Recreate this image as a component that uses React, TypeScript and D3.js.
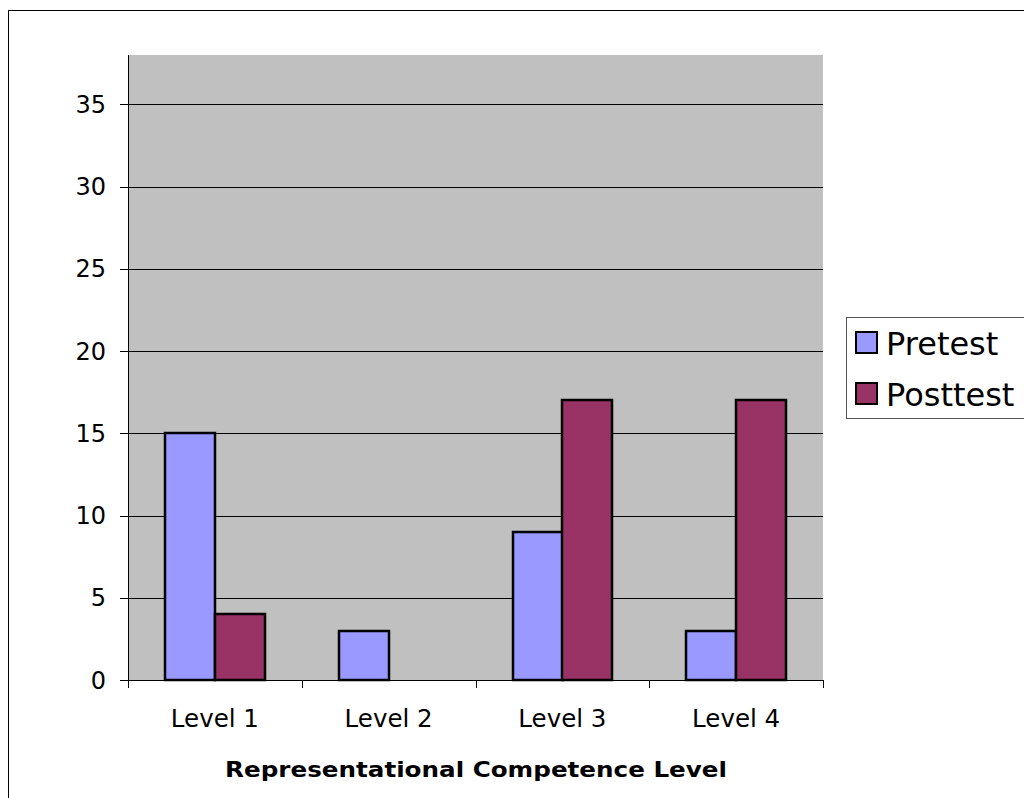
import React from "react";
import * as d3 from "d3";

const categories = ["Level 1", "Level 2", "Level 3", "Level 4"];
const seriesNames = ["Pretest", "Posttest"];
const pretest = [15, 3, 9, 3];
const posttest = [4, 0, 17, 17];
const yTicks = [0, 5, 10, 15, 20, 25, 30, 35];
const colors = ["#9999FF", "#993366"];

export default function App() {
  const left = 128, right = 823, top = 55, bottom = 680;
  const x = d3.scaleBand<string>().domain(categories).range([left, right]).paddingInner(0).paddingOuter(0);
  const y = d3.scaleLinear().domain([0, 38]).range([bottom, top]);
  const bw = x.bandwidth() / 3.5;
  const values = [pretest, posttest];
  const font = "'DejaVu Sans', Verdana, sans-serif";
  const boundaries = categories.map((c) => x(c) as number).concat([right]);
  return (
    <svg width={1024} height={798} style={{ position: "absolute", left: 0, top: 0 }} fontFamily={font}>
      <rect x={0} y={0} width={1024} height={798} fill="#fff" />
      <rect x={8.5} y={10.5} width={1030} height={800} fill="#fff" stroke="#000" strokeWidth={1} />
      <rect x={left} y={top} width={right - left} height={bottom - top} fill="#C0C0C0" />
      {yTicks.filter((t) => t > 0).map((t) => (
        <line key={"g" + t} x1={left} x2={right} y1={Math.round(y(t)) + 0.5} y2={Math.round(y(t)) + 0.5} stroke="#000" strokeWidth={1} />
      ))}
      {values.map((vals, si) =>
        vals.map((v, ci) =>
          v > 0 ? (
            <rect
              key={si + "-" + ci}
              x={Math.round((x(categories[ci]) as number) + 0.75 * bw + si * bw)}
              y={Math.round(y(v))}
              width={Math.round(bw)}
              height={bottom - Math.round(y(v))}
              fill={colors[si]}
              stroke="#000"
              strokeWidth={2.5}
            />
          ) : null
        )
      )}
      <line x1={left + 0.5} x2={left + 0.5} y1={top} y2={bottom + 8} stroke="#000" />
      <line x1={left - 8} x2={right} y1={bottom + 0.5} y2={bottom + 0.5} stroke="#000" />
      {yTicks.map((t) => (
        <g key={"t" + t}>
          <line x1={left - 8} x2={left} y1={Math.round(y(t)) + 0.5} y2={Math.round(y(t)) + 0.5} stroke="#000" />
          <text x={106} y={y(t) + 8.5} textAnchor="end" fontSize={24} fill="#000">{t}</text>
        </g>
      ))}
      {boundaries.map((b, i) => (
        <line key={"b" + i} x1={Math.round(b) + 0.5} x2={Math.round(b) + 0.5} y1={bottom} y2={bottom + 8} stroke="#000" />
      ))}
      {categories.map((c) => (
        <text key={c} x={(x(c) as number) + x.bandwidth() / 2} y={727} textAnchor="middle" fontSize={24.5} fill="#000">{c}</text>
      ))}
      <text x={476} y={777} textAnchor="middle" fontSize={21} fontWeight="bold" fill="#000" fontFamily="'DejaVu Sans Condensed', 'Liberation Sans', sans-serif" textLength={502} lengthAdjust="spacingAndGlyphs">Representational Competence Level</text>
      <rect x={846.5} y={317.5} width={200} height={101} fill="#fff" stroke="#555" strokeWidth={1} />
      {seriesNames.map((s, i) => (
        <g key={s}>
          <rect x={856} y={332 + i * 51} width={21} height={21} fill={colors[i]} stroke="#000" strokeWidth={2} />
          <text x={886} y={355 + i * 51} fontSize={32} fill="#000">{s}</text>
        </g>
      ))}
    </svg>
  );
}
